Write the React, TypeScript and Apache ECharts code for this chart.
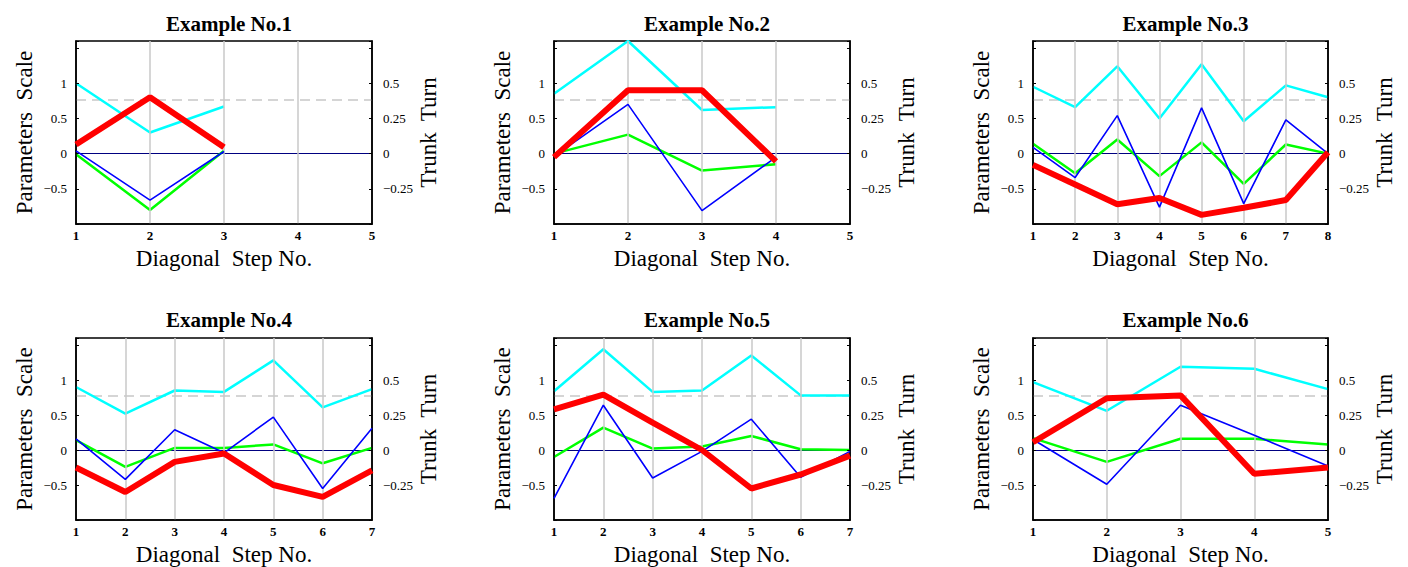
import React, { useEffect, useRef } from "react";
import * as echarts from "echarts";

const titles = ["Example No.1", "Example No.2", "Example No.3", "Example No.4", "Example No.5", "Example No.6"];
const stepCounts = [5, 5, 8, 7, 7, 5];

const cyan1 = [1.0, 0.3, 0.67];
const blue1 = [0.04, -0.66, 0.03];
const green1 = [-0.01, -0.8, 0.04];
const red1 = [0.13, 0.8, 0.09];

const cyan2 = [0.85, 1.6, 0.62, 0.66];
const blue2 = [-0.04, 0.7, -0.81, -0.05];
const green2 = [0.0, 0.27, -0.24, -0.15];
const red2 = [-0.05, 0.9, 0.9, -0.11];

const cyan3 = [0.95, 0.66, 1.24, 0.5, 1.27, 0.46, 0.97, 0.8];
const blue3 = [0.09, -0.34, 0.54, -0.76, 0.65, -0.71, 0.48, 0.0];
const green3 = [0.14, -0.28, 0.2, -0.32, 0.16, -0.43, 0.13, 0.0];
const red3 = [-0.16, -0.44, -0.72, -0.63, -0.87, -0.77, -0.66, 0.02];

const cyan4 = [0.9, 0.52, 0.85, 0.83, 1.28, 0.61, 0.87];
const blue4 = [0.16, -0.42, 0.29, -0.04, 0.47, -0.55, 0.31];
const green4 = [0.14, -0.24, 0.03, 0.03, 0.08, -0.19, 0.03];
const red4 = [-0.25, -0.6, -0.17, -0.05, -0.5, -0.67, -0.29];

const cyan5 = [0.84, 1.44, 0.83, 0.85, 1.35, 0.78, 0.78];
const blue5 = [-0.69, 0.64, -0.4, -0.02, 0.44, -0.39, -0.02];
const green5 = [-0.1, 0.32, 0.02, 0.05, 0.2, 0.01, 0.0];
const red5 = [0.58, 0.79, 0.39, 0.0, -0.55, -0.35, -0.08];

const cyan6 = [0.97, 0.56, 1.19, 1.16, 0.87];
const blue6 = [0.15, -0.49, 0.64, 0.21, -0.23];
const green6 = [0.17, -0.17, 0.16, 0.16, 0.08];
const red6 = [0.11, 0.74, 0.78, -0.34, -0.25];

const panels = [
  { cyan: cyan1, blue: blue1, green: green1, red: red1 },
  { cyan: cyan2, blue: blue2, green: green2, red: red2 },
  { cyan: cyan3, blue: blue3, green: green3, red: red3 },
  { cyan: cyan4, blue: blue4, green: green4, red: red4 },
  { cyan: cyan5, blue: blue5, green: green5, red: red5 },
  { cyan: cyan6, blue: blue6, green: green6, red: red6 },
];

const referenceLevel = 0.77;
const leftLabels = [-0.5, 0, 0.5, 1];
const rightLabels = [-0.25, 0, 0.25, 0.5];

const SERIF = "'Liberation Serif', 'DejaVu Serif', 'Times New Roman', serif";

const gridLefts = [76, 554, 1033];
const gridWidths = [296, 296, 295];
const gridTops = [41, 338];
const gridHeights = [183, 182];

const fmt = (v: number) => {
  const s = String(Math.round(v * 100) / 100);
  return s.replace("-", "\u2212");
};

export default function App() {
  const ref = useRef<HTMLDivElement>(null);
  useEffect(() => {
    if (!ref.current) return;
    const chart = echarts.init(ref.current, null, { renderer: "svg" });
    const grid: any[] = [];
    const xAxis: any[] = [];
    const yAxis: any[] = [];
    const series: any[] = [];
    const title: any[] = [];
    const frameLine = { show: true, onZero: false, lineStyle: { color: "#000", width: 1.5 } };
    panels.forEach((p, i) => {
      const row = Math.floor(i / 3);
      const col = i % 3;
      const left = gridLefts[col];
      const width = gridWidths[col];
      grid.push({
        left,
        top: gridTops[row],
        width,
        height: gridHeights[row],
        show: true,
        borderColor: "#000",
        borderWidth: 1.5,
        backgroundColor: "#fff",
        z: 0,
      });
      title.push({
        text: titles[i],
        left: left + width / 2,
        top: row === 0 ? 8 : 304,
        textAlign: "center",
        textStyle: { fontFamily: SERIF, fontSize: 21, fontWeight: "bold", color: "#000" },
      });
      xAxis.push({
        type: "value",
        gridIndex: i,
        min: 1,
        max: stepCounts[i],
        interval: 1,
        name: "Diagonal  Step No.",
        nameLocation: "middle",
        nameGap: 23,
        nameTextStyle: { fontFamily: SERIF, fontSize: 23, color: "#000" },
        axisLine: frameLine,
        axisTick: { show: false },
        axisLabel: { fontFamily: SERIF, fontSize: 13, fontWeight: "bold", color: "#000", margin: 5 },
        splitLine: { show: true, showMinLine: false, showMaxLine: false, lineStyle: { color: "#c8c8c8", width: 1.5 } },
        z: 5,
      });
      yAxis.push({
        type: "value",
        gridIndex: i,
        position: "left",
        min: -1,
        max: 1.6,
        interval: 0.5,
        name: "Parameters  Scale",
        nameLocation: "middle",
        nameRotate: 90,
        nameGap: 40,
        nameTextStyle: { fontFamily: SERIF, fontSize: 23, color: "#000" },
        axisLine: frameLine,
        axisTick: { show: true, inside: true, length: 3, lineStyle: { color: "#000" } },
        axisLabel: {
          fontFamily: SERIF,
          fontSize: 13,
          color: "#000",
          margin: 9,
          formatter: (v: number) => (leftLabels.some((l) => Math.abs(l - v) < 1e-6) ? fmt(v) : ""),
        },
        splitLine: { show: false },
        z: 5,
      });
      yAxis.push({
        type: "value",
        gridIndex: i,
        position: "right",
        min: -0.5,
        max: 0.8,
        interval: 0.25,
        name: "Trunk  Turn",
        nameLocation: "middle",
        nameRotate: 90,
        nameGap: 42,
        nameTextStyle: { fontFamily: SERIF, fontSize: 23, color: "#000" },
        axisLine: frameLine,
        axisTick: { show: true, inside: true, length: 3, lineStyle: { color: "#000" } },
        axisLabel: {
          fontFamily: SERIF,
          fontSize: 13,
          color: "#000",
          margin: 11,
          formatter: (v: number) => (rightLabels.some((l) => Math.abs(l - v) < 1e-6) ? fmt(v) : ""),
        },
        splitLine: { show: false },
        z: 5,
      });
      const yIdx = i * 2;
      const toData = (arr: number[]) => arr.map((v, k) => [k + 1, v]);
      series.push({
        type: "line",
        xAxisIndex: i,
        yAxisIndex: yIdx,
        data: [],
        silent: true,
        z: 1,
        markLine: {
          silent: true,
          symbol: "none",
          z: 1,
          label: { show: false },
          data: [
            { yAxis: 0, lineStyle: { color: "#000080", width: 1.2, type: "solid" } },
            { yAxis: referenceLevel, lineStyle: { color: "#c8c8c8", width: 1.5, type: [10, 6] } },
          ],
        },
      });
      const mk = (arr: number[], color: string, w: number, z: number) => ({
        type: "line",
        xAxisIndex: i,
        yAxisIndex: yIdx,
        data: toData(arr),
        symbol: "none",
        showSymbol: false,
        lineStyle: { color, width: w },
        silent: true,
        z,
      });
      series.push(mk(p.cyan, "#00ffff", 2.5, 3));
      series.push(mk(p.green, "#00ff00", 2.5, 4));
      series.push(mk(p.blue, "#0000ff", 1.6, 5));
      series.push(mk(p.red, "#ff0000", 6, 6));
    });
    chart.setOption({
      animation: false,
      backgroundColor: "#fff",
      title,
      grid,
      xAxis,
      yAxis,
      series,
    });
    return () => chart.dispose();
  }, []);
  return (
    <div
      ref={ref}
      style={{ position: "fixed", left: 0, top: 0, width: 1408, height: 567, background: "#fff" }}
    />
  );
}
